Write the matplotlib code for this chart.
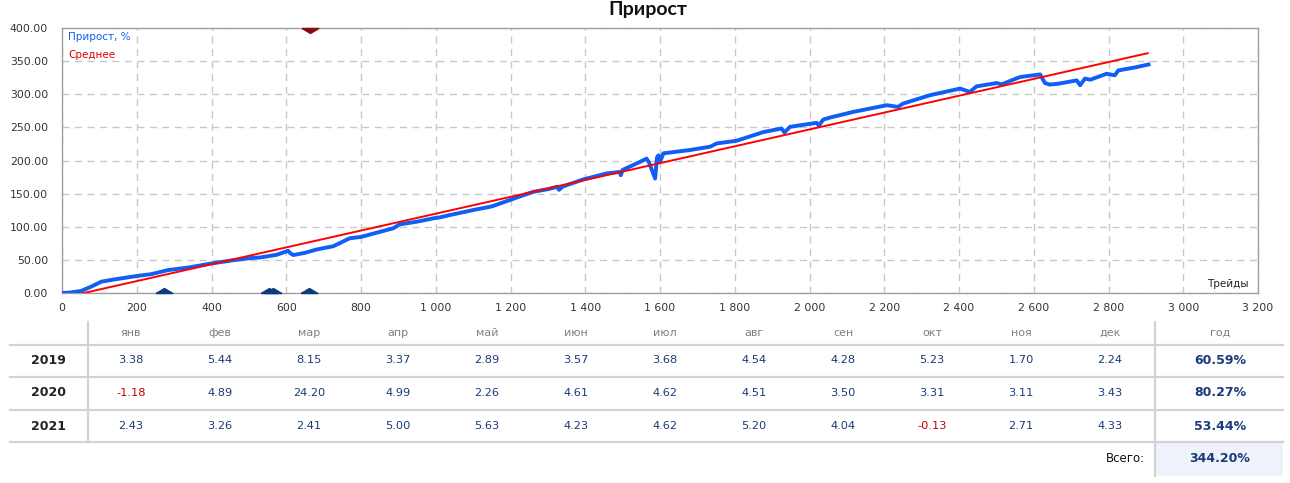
import matplotlib
matplotlib.use("Agg")
import matplotlib.pyplot as plt
from matplotlib.ticker import FixedLocator, FuncFormatter

# ---------------- Данные ----------------
trades = [0, 20, 51, 78, 105, 141, 199, 240, 284, 340, 400, 460, 503, 530, 574,
          605, 612, 619, 650, 681, 726, 770, 800, 833, 886, 904, 950, 993, 1011,
          1038, 1100, 1150, 1190, 1230, 1261, 1300, 1324, 1330, 1340, 1395, 1457,
          1493, 1495, 1500, 1546, 1564, 1570, 1587, 1592, 1596, 1600, 1609, 1680,
          1734, 1752, 1805, 1876, 1925, 1933, 1948, 2019, 2025, 2037, 2055, 2117,
          2207, 2237, 2250, 2322, 2403, 2429, 2447, 2501, 2514, 2563, 2617, 2630,
          2643, 2666, 2715, 2724, 2737, 2751, 2795, 2817, 2826, 2875, 2907]
growth = [0.5, 1, 3.5, 10, 17.5, 21, 26, 29, 35, 39, 45, 50, 53, 54, 58,
          64, 60, 57.7, 61, 66, 71, 83, 85, 90, 98, 104, 108, 113, 114.5,
          118, 125.5, 131, 139, 147, 153, 157, 160.5, 156, 161, 171.7, 180.7,
          183, 178, 186, 198, 203, 198, 173, 205, 208, 198, 211, 216,
          221, 226, 230, 243, 248.5, 242.6, 251, 257, 253, 262, 265, 273.5,
          283.6, 281, 286, 298.6, 308.7, 303.6, 312, 317, 315, 326, 330, 317,
          314.7, 316, 321, 313.7, 323.8, 322, 331, 328.7, 336, 341, 345]

avg_x = [0, 2905]
avg_y = [-7, 362]

marks_bottom = [273, 553, 565, 662]
marks_top = [664]

x_ticks = list(range(0, 3201, 200))
y_ticks = list(range(0, 401, 50))

months = ["янв", "фев", "мар", "апр", "май", "июн",
          "июл", "авг", "сен", "окт", "ноя", "дек"]
years = ["2019", "2020", "2021"]
m2019 = [3.38, 5.44, 8.15, 3.37, 2.89, 3.57, 3.68, 4.54, 4.28, 5.23, 1.70, 2.24]
m2020 = [-1.18, 4.89, 24.20, 4.99, 2.26, 4.61, 4.62, 4.51, 3.50, 3.31, 3.11, 3.43]
m2021 = [2.43, 3.26, 2.41, 5.00, 5.63, 4.23, 4.62, 5.20, 4.04, -0.13, 2.71, 4.33]
year_total = [60.59, 80.27, 53.44]
grand_total = 344.20

BLUE = "#0f5ef5"
NUM = "#1b3a78"
NEG = "#c00000"
GRID = "#c8c8c8"

W, H = 1290, 483
fig = plt.figure(figsize=(W / 100, H / 100), dpi=100)

# ---------------- График ----------------
ax = fig.add_axes([62 / W, 1 - 293.3 / H, (1258 - 62) / W, (293.3 - 28) / H])
ax.plot(trades, growth, color=BLUE, lw=2.8, solid_joinstyle="round", zorder=3)
ax.plot(avg_x, avg_y, color="#ff0000", lw=1.4, zorder=4)

up = [(-1, 0), (1, 0), (0, 0.6), (-1, 0)]
down = [(-1, 0), (1, 0), (0, -0.6), (-1, 0)]
ax.plot(marks_bottom, [0] * len(marks_bottom), ls="none", marker=up,
        ms=12, color="#0b3b7e", clip_on=False, zorder=5)
ax.plot(marks_top, [400] * len(marks_top), ls="none", marker=down,
        ms=12, color="#8b0a0a", clip_on=False, zorder=5)

ax.set_xlim(0, 3200)
ax.set_ylim(0, 400)
ax.xaxis.set_major_locator(FixedLocator(x_ticks))
ax.yaxis.set_major_locator(FixedLocator(y_ticks))
ax.xaxis.set_major_formatter(FuncFormatter(lambda v, p: f"{int(v):,}".replace(",", " ")))
ax.yaxis.set_major_formatter(FuncFormatter(lambda v, p: f"{v:.2f}"))
ax.tick_params(length=0, labelsize=7.8, labelcolor="#333333")
ax.tick_params(axis="y", pad=10)
ax.tick_params(axis="x", pad=7)
ax.grid(True, color=GRID, ls=(0, (5, 4)), lw=1)
for s in ax.spines.values():
    s.set_color("#a0a0a0")
    s.set_linewidth(1)

ax.text(0.005, 0.965, "Прирост, %", transform=ax.transAxes, color=BLUE,
        fontsize=7.5, va="center")
ax.text(0.005, 0.9, "Среднее", transform=ax.transAxes, color="#e00000",
        fontsize=7.5, va="center")
ax.text(0.992, 0.035, "Трейды", transform=ax.transAxes, color="#222222",
        fontsize=7.5, ha="right", va="center")

fig.text(648 / W, 1 - 9 / H, "Прирост", ha="center", va="center",
         fontsize=14, fontweight="bold", family="Lato", color="#111111")

# ---------------- Таблица ----------------
tab = fig.add_axes([0, 0, 1, 1], zorder=-1)
tab.set_xlim(0, W)
tab.set_ylim(H, 0)
tab.axis("off")

col_x = [131 + 89 * i for i in range(12)]
year_x, total_x = 48, 1220
row_y = [360, 393, 426]
line_c = "#d2d2d2"

for yl in [344.5, 377, 409.5, 441.5]:
    tab.plot([10, 1283], [yl, yl], color=line_c, lw=1.6)
tab.plot([88, 88], [322, 441.5], color=line_c, lw=1.6)
tab.plot([1155, 1155], [322, 476], color=line_c, lw=1.6)
tab.fill_between([1156, 1283], 443, 476, color="#edf2fb", lw=0)

for x, m in zip(col_x, months):
    tab.text(x, 333, m, ha="center", va="center", fontsize=8, color="#808080")
tab.text(total_x, 333, "год", ha="center", va="center", fontsize=8, color="#808080")

for y, yr, vals, tot in zip(row_y, years, [m2019, m2020, m2021], year_total):
    tab.text(year_x, y, yr, ha="center", va="center", fontsize=9,
             fontweight="bold", color="#222222")
    for x, v in zip(col_x, vals):
        tab.text(x, y, f"{v:.2f}", ha="center", va="center", fontsize=8.2,
                 color=NEG if v < 0 else NUM)
    tab.text(total_x, y, f"{tot:.2f}%", ha="center", va="center", fontsize=9,
             fontweight="bold", color=NUM)

tab.text(1145, 459, "Всего:", ha="right", va="center", fontsize=8.5, color="#111111")
tab.text(total_x, 459, f"{grand_total:.2f}%", ha="center", va="center",
         fontsize=9, fontweight="bold", color=NUM)

fig.savefig("out.png", dpi=100)
